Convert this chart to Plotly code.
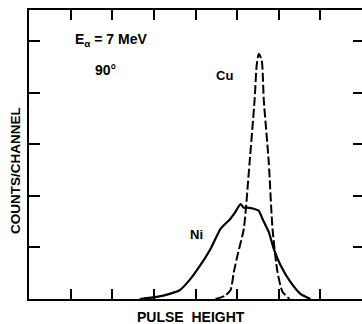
import plotly.graph_objects as go

# Ni spectrum (solid)
ni_x = [2.66, 3.07, 3.38, 3.62, 3.88, 4.12, 4.36, 4.60, 4.72, 4.80, 4.96, 5.08, 5.16, 5.24, 5.40, 5.52, 5.61, 5.70, 5.76, 5.88, 6.04, 6.28, 6.52, 6.76]
ni_y = [0.0, 0.04, 0.10, 0.17, 0.39, 0.66, 0.97, 1.36, 1.46, 1.52, 1.69, 1.84, 1.77, 1.77, 1.75, 1.71, 1.55, 1.40, 1.30, 0.97, 0.66, 0.33, 0.10, 0.0]

# Cu spectrum (dashed)
cu_x = [4.48, 4.70, 4.84, 4.92, 5.01, 5.16, 5.30, 5.42, 5.47, 5.52, 5.59, 5.64, 5.76, 5.85, 5.97, 6.09, 6.26]
cu_y = [0.0, 0.06, 0.17, 0.52, 0.85, 1.36, 2.65, 3.86, 4.53, 4.75, 4.63, 3.86, 2.65, 1.36, 0.52, 0.14, 0.0]

x_ticks = [1, 2, 3, 4, 5, 6, 7]
y_ticks = [1, 2, 3, 4, 5]

FONT = "Liberation Sans"
W, H = 362, 324
L, R, T, B = 29, 0, 10, 25
PW, PH = W - L - R, H - T - B


def px(xp):
    return (xp - L) / PW


def py(yp):
    return (H - B - yp) / PH


fig = go.Figure()
fig.add_trace(go.Scatter(x=ni_x, y=ni_y, mode="lines",
                         line=dict(color="black", width=2.2, shape="spline", smoothing=0.5),
                         showlegend=False, hoverinfo="skip"))
fig.add_trace(go.Scatter(x=cu_x, y=cu_y, mode="lines",
                         line=dict(color="black", width=2, dash="9px,3px", shape="spline", smoothing=0.6),
                         showlegend=False, hoverinfo="skip"))
fig.add_trace(go.Scatter(x=[0], y=[0], yaxis="y2", mode="markers",
                         marker=dict(opacity=0), showlegend=False, hoverinfo="skip"))

fig.update_layout(
    width=W, height=H,
    margin=dict(l=L, r=R, t=T, b=B),
    paper_bgcolor="white", plot_bgcolor="white",
    xaxis=dict(range=[0, 8], showline=True, linecolor="black", linewidth=2,
               mirror="ticks", ticks="inside", ticklen=10, tickwidth=1.5, tickcolor="black",
               tickvals=x_ticks, showticklabels=False, showgrid=False, zeroline=False),
    yaxis=dict(range=[0, 5.6], showline=True, linecolor="black", linewidth=2,
               ticks="inside", ticklen=11, tickwidth=1.5, tickcolor="black",
               tickvals=y_ticks, showticklabels=False, showgrid=False, zeroline=False),
    yaxis2=dict(range=[0, 5.6], overlaying="y", side="right", anchor="x",
                showline=False, ticks="inside", ticklen=9, tickwidth=1.5, tickcolor="black",
                tickvals=y_ticks, showticklabels=False, showgrid=False, zeroline=False),
    font=dict(family=FONT, color="black"),
)

ann = [
    (111, 40, "<b>E<sub>α</sub> = 7 MeV</b>", 14),
    (105, 70, "<b>90°</b>", 14),
    (225, 76, "<b>Cu</b>", 13),
    (196, 234, "<b>Ni</b>", 13),
    (191, 317, "<b>PULSE  HEIGHT</b>", 14),
]
for x0, y0, text, size in ann:
    fig.add_annotation(x=px(x0), y=py(y0), xref="paper", yref="paper", text=text,
                       showarrow=False, xanchor="center", yanchor="middle",
                       font=dict(size=size, family=FONT, color="black"))
fig.add_annotation(x=px(15), y=py(171), xref="paper", yref="paper",
                   text="<b>COUNTS/CHANNEL</b>", textangle=-90, showarrow=False,
                   xanchor="center", yanchor="middle",
                   font=dict(size=13.5, family=FONT, color="black"))

fig.write_html("out.html")
